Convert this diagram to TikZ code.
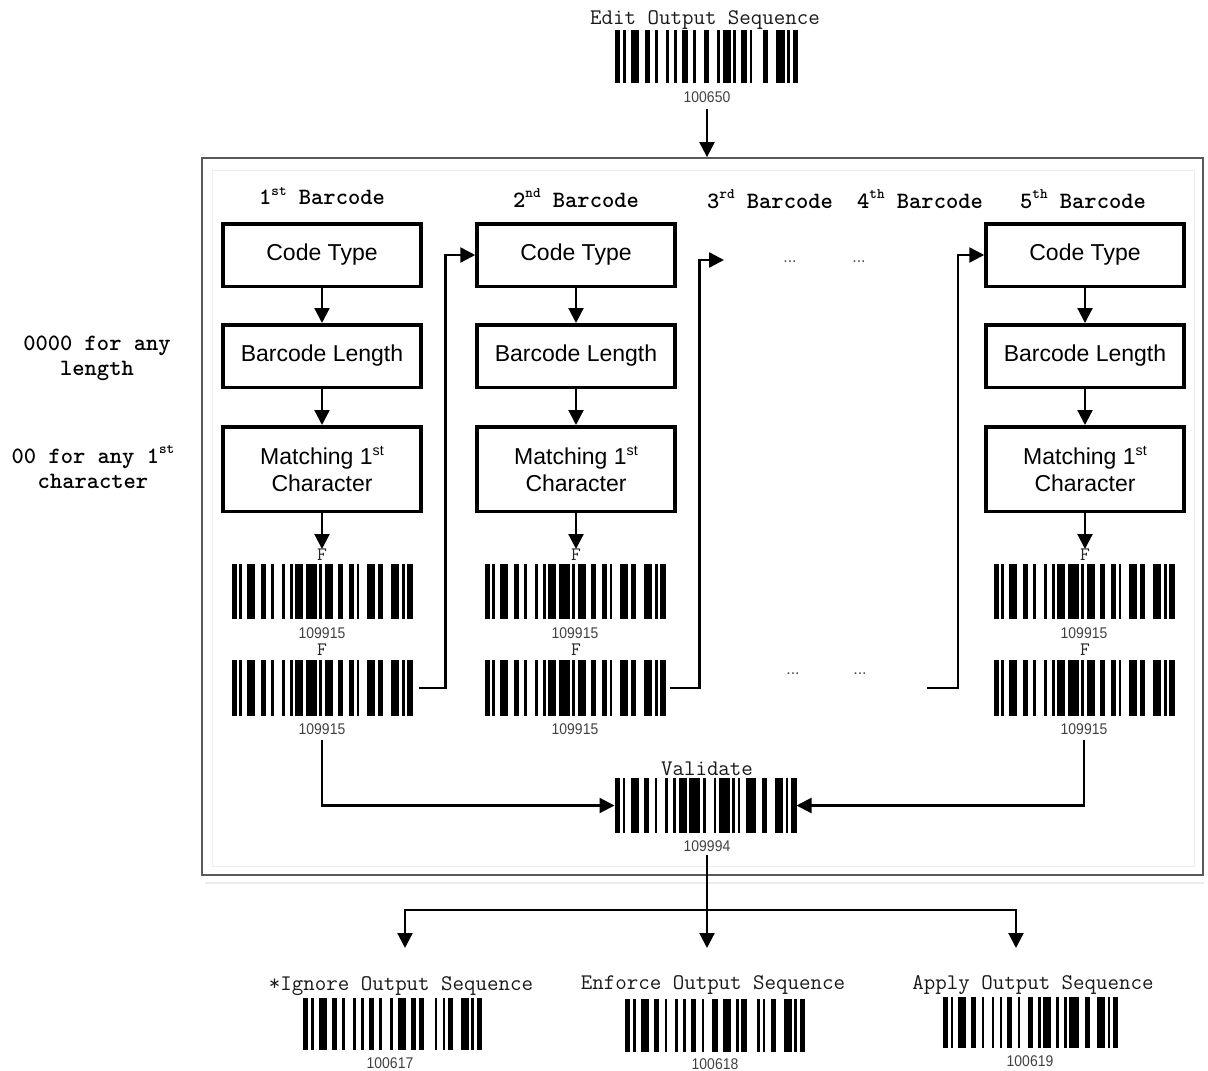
\documentclass[tikz,border=0pt]{standalone}
\usepackage{fontspec}
\usepackage{graphicx}
\setmainfont{Liberation Sans}
\newfontfamily\numf[FakeStretch=0.9]{Liberation Sans}
\usetikzlibrary{arrows.meta}

% Code 128 element widths
\def\pS{2,1,1,2,3,2}
\def\pE{2,3,3,1,1,1,2}
\def\pTen{2,2,1,3,1,2}
\def\pSix{1,2,2,2,1,3}
\def\pFifteen{1,1,3,2,2,2}
\def\pNN{1,1,3,1,4,1}
\def\pFN{2,1,1,3,3,1}
\def\pFifty{2,3,1,1,3,1}
\def\pSO{1,2,2,1,1,4}
\def\pNF{1,3,1,1,4,1}
\def\pEighty{1,1,1,2,4,2}
\def\pSeventeen{1,2,3,2,2,1}
\def\pSF{2,4,1,2,1,1}
\def\pEighteen{2,2,3,2,1,1}
\def\pSE{2,4,1,1,1,2}
\def\pNineteen{2,2,1,1,3,2}
\def\pEO{1,2,1,1,4,2}
\edef\bcF{\pS,\pTen,\pNN,\pFifteen,\pFN,\pE}
\edef\bcTop{\pS,\pTen,\pSix,\pFifty,\pSO,\pE}
\edef\bcV{\pS,\pTen,\pNN,\pNF,\pEighty,\pE}
\edef\bcIg{\pS,\pTen,\pSix,\pSeventeen,\pSF,\pE}
\edef\bcEn{\pS,\pTen,\pSix,\pEighteen,\pSE,\pE}
\edef\bcAp{\pS,\pTen,\pSix,\pNineteen,\pEO,\pE}

\newcommand\sups[1]{\raisebox{.42em}{\scalebox{0.62}{#1}}}

% name, center, width, height, pattern
\newcommand\mybarcode[5]{%
  \node[minimum width=#3, minimum height=#4, inner sep=0pt, outer sep=0pt] (#1) at (#2) {};
  \pgfmathsetmacro\bcmod{#3/68}
  \begin{scope}[shift={(#1.north west)}]
    \gdef\bcx{0}
    \foreach \w [count=\i] in #5 {
      \pgfmathsetmacro\bcn{\bcx+\w*\bcmod}
      \ifodd\i\relax \fill (\bcx,0) rectangle (\bcn,#4);\fi
      \global\let\bcx\bcn
    }
  \end{scope}}

\tikzset{
  arr/.style={line width=2.2, -{Triangle[length=15pt,width=15pt]}},
  arrtwo/.style={line width=2.6, -{Triangle[length=15pt,width=15pt]}},
  plain/.style={line width=2.2},
  box/.style={draw, line width=3.5, minimum width=198, minimum height=62.5, inner sep=0pt, align=center, font=\fontsize{23}{27}\selectfont},
  hdr/.style={font=\ttfamily\bfseries\fontsize{23.4}{26}\selectfont, inner sep=0pt},
  side/.style={font=\ttfamily\bfseries\fontsize{23.4}{25}\selectfont, align=center, inner sep=0pt},
  captxt/.style={font=\ttfamily\fontsize{22.3}{24}\selectfont, inner sep=0pt, text=black!90},
  num/.style={font=\numf\fontsize{15.5}{17}\selectfont, inner sep=0pt, text=black!75},
  flab/.style={font=\ttfamily\fontsize{19}{20}\selectfont, inner sep=0pt, text=black!85},
  dotsty/.style={font=\fontsize{16}{18}\selectfont, inner sep=0pt, text=black!70},
}

\begin{document}
\begin{tikzpicture}[x=1pt,y=-1pt]
\useasboundingbox (0,0) rectangle (1208,1071);

% frame
\node[draw=black!65, line width=1.8, minimum width=1001, minimum height=717, inner sep=0pt] (frame) at (702.5,516.5) {};
\draw[black!7, line width=1] ([shift={(11,13)}]frame.north west) rectangle ([shift={(-9,-9)}]frame.south east);
\draw[black!8, line width=1.5] ([shift={(4,7)}]frame.south west) -- ([shift={(0,7)}]frame.south east);

% top
\node[captxt] (t0) at (705,20) {Edit Output Sequence};
\mybarcode{b0}{706.5,56.5}{183}{53}{\bcTop}
\node[num] (n0) at (707,97) {100650};
\draw[arr, shorten <=6pt] (n0.south) -- (n0.south |- frame.north);

% headers
\node[hdr] (h1) at (322,196) {1\sups{st} Barcode};
\node[hdr] (h2) at (576,198) {2\sups{nd} Barcode};
\node[hdr] (h3) at (770,199) {3\sups{rd} Barcode};
\node[hdr] (h4) at (920,199) {4\sups{th} Barcode};
\node[hdr] (h5) at (1083,199) {5\sups{th} Barcode};

% side notes
\node[side] (s1) at (97,358) {0000 for any\\length};
\node[side] (s2) at (93,467) {00 for any 1\sups{st}\\character};

% columns
\foreach \k/\x/\bx in {1/322/322,2/576/575,5/1085/1084} {
  \node[box] (ct\k) at (\x,255) {Code Type};
  \node[box] (bl\k) at (\x,356) {Barcode Length};
  \node[box, minimum height=84.5] (mc\k) at (\x,469) {Matching 1\sups{st}\\Character};
  \node[flab] (fa\k) at (\x,555) {F};
  \mybarcode{ba\k}{\bx,591.5}{181}{55}{\bcF}
  \node[num] (na\k) at (\bx,633) {109915};
  \node[flab] (fb\k) at (\x,650) {F};
  \mybarcode{bb\k}{\bx,688}{181}{56}{\bcF}
  \node[num] (nb\k) at (\bx,729) {109915};
  \draw[arr] (ct\k) -- (bl\k);
  \draw[arr] (bl\k) -- (mc\k);
  \draw[arr] (mc\k) -- (fa\k);
}

% dots
\node[dotsty] (d1) at (790,262) {...};
\node[dotsty] (d2) at (859,262) {...};
\node[dotsty] (d3) at (793,674) {...};
\node[dotsty] (d4) at (860,674) {...};

% chaining connectors
\coordinate (cthreein) at (724,260);
\coordinate (cfourout) at (927,688);
\draw[arrtwo] ([xshift=6pt]bb1.east) -- ++(27,0) |- (ct2.west);
\draw[arrtwo] ([xshift=4pt]bb2.east) -- ++(30,0) |- (cthreein);
\draw[arrtwo] (cfourout) -- ++(31,0) |- (ct5.west);

% validate
\node[captxt] (vt) at (707,769) {Validate};
\mybarcode{vb}{705.5,805.5}{182}{55}{\bcV}
\node[num] (vn) at (707,846) {109994};
\draw[arr, shorten <=5pt] (nb1.south) |- (vb.west);
\draw[arr, shorten <=5pt] (nb5.south) |- (vb.east);

% split
\coordinate (split) at (707,910);
\coordinate (aone) at (405,948);
\coordinate (atwo) at (707,948);
\coordinate (athree) at (1016,948);
\draw[plain, shorten <=3pt] (vn.south) -- (split);
\draw[arr] (split) -| (aone);
\draw[arr] (split) -- (atwo);
\draw[arr] (split) -| (athree);

% bottom options
\node[captxt] (ti) at (401,986) {*Ignore Output Sequence};
\mybarcode{bi}{392.5,1024}{179}{52}{\bcIg}
\node[num] (ni) at (390,1063) {100617};
\node[captxt] (te) at (713,985) {Enforce Output Sequence};
\mybarcode{be}{715,1025.5}{180}{53}{\bcEn}
\node[num] (ne) at (715,1064) {100618};
\node[captxt] (tap) at (1033,985) {Apply Output Sequence};
\mybarcode{bap}{1030.5,1022.5}{175}{51}{\bcAp}
\node[num] (nap) at (1030,1061) {100619};
\end{tikzpicture}
\end{document}
